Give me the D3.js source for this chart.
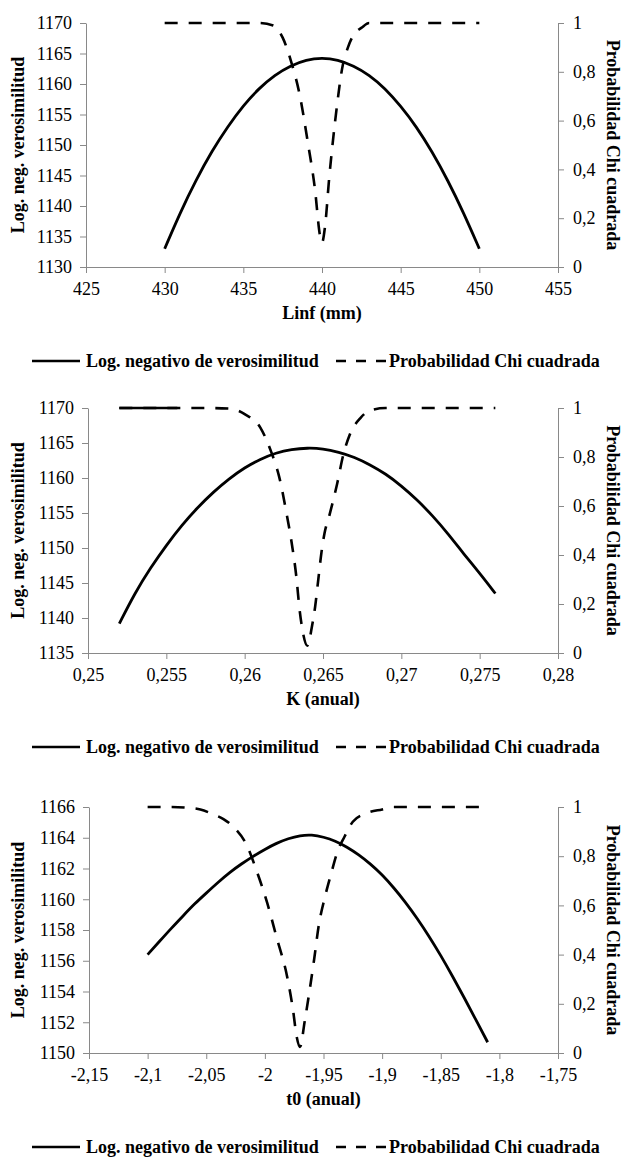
<!DOCTYPE html>
<html>
<head>
<meta charset="utf-8">
<script src="https://cdnjs.cloudflare.com/ajax/libs/d3/7.8.5/d3.min.js"></script>
<style>
  body { margin: 0; background: #fff; }
  svg { display: block; font-family: "Liberation Serif", "Times New Roman", serif; }
  .tick text { font-family: "Liberation Serif", "Times New Roman", serif; font-size: 18px; fill: #000; }
  .domain, .tick line { stroke: #898989; stroke-width: 1; }
  .axis-title, .legend-text { font-size: 18px; font-weight: bold; fill: #000; }
  .nll-line { fill: none; stroke: #000; stroke-width: 2.8; }
  .prob-line { fill: none; stroke: #000; stroke-width: 2.6; stroke-dasharray: 13 11; }
</style>
</head>
<body>
<div id="wrapper"></div>
<script>

// Linf panel
const linfTicks = [425, 430, 435, 440, 445, 450, 455]
const linfNllTicks = [1130, 1135, 1140, 1145, 1150, 1155, 1160, 1165, 1170]
const linfNllX = [430, 431, 432, 433, 434, 435, 436, 437, 438, 439, 440, 441, 442, 443, 444, 445, 446, 447, 448, 449, 450]
const linfNll = [1133.0, 1139.0, 1144.3, 1149.0, 1153.0, 1156.5, 1159.3, 1161.5, 1163.0, 1164.0, 1164.3, 1164.0, 1163.0, 1161.5, 1159.3, 1156.4, 1153.0, 1148.9, 1144.2, 1138.9, 1133.0]
const linfProbX = [430, 432, 434, 436, 436.9, 437.5, 438.0, 438.6, 439.1, 439.55, 439.87, 440.0, 440.2, 440.45, 440.7, 440.95, 441.27, 441.65, 442.1, 442.5, 443.0, 444, 446, 448, 450]
const linfProb = [1, 1, 1, 1, 0.99, 0.94, 0.85, 0.70, 0.51, 0.32, 0.13, 0.10, 0.17, 0.36, 0.52, 0.66, 0.81, 0.90, 0.96, 0.98, 1, 1, 1, 1, 1]

// K panel
const kTicks = [0.25, 0.255, 0.26, 0.265, 0.27, 0.275, 0.28]
const kNllTicks = [1135, 1140, 1145, 1150, 1155, 1160, 1165, 1170]
const kNllX = [0.252, 0.253, 0.254, 0.255, 0.256, 0.257, 0.258, 0.259, 0.260, 0.261, 0.262, 0.263, 0.264, 0.265, 0.266, 0.267, 0.268, 0.269, 0.270, 0.271, 0.272, 0.273, 0.274, 0.275, 0.276]
const kNll = [1139.2, 1143.6, 1147.2, 1150.4, 1153.3, 1155.8, 1158.0, 1159.9, 1161.5, 1162.7, 1163.6, 1164.1, 1164.3, 1164.2, 1163.7, 1163.0, 1161.9, 1160.6, 1158.9, 1156.9, 1154.6, 1152.0, 1149.1, 1146.4, 1143.5]
const kProbX = [0.252, 0.254, 0.256, 0.2575, 0.259, 0.260, 0.261, 0.2617, 0.2622, 0.2627, 0.2630, 0.2633, 0.2635, 0.2637, 0.2640, 0.2643, 0.2645, 0.2647, 0.2649, 0.2651, 0.2654, 0.2659, 0.2663, 0.2667, 0.2674, 0.268, 0.269, 0.272, 0.276]
const kProb = [1, 1, 1, 1, 0.998, 0.975, 0.92, 0.82, 0.72, 0.56, 0.45, 0.31, 0.18, 0.09, 0.03, 0.11, 0.19, 0.30, 0.41, 0.49, 0.56, 0.69, 0.81, 0.89, 0.96, 0.99, 1, 1, 1]
// densely sampled start of the K run: the dashes merge into a solid stroke
const kProbDenseUntil = 0.2557

// t0 panel
const t0Ticks = [-2.15, -2.1, -2.05, -2, -1.95, -1.9, -1.85, -1.8, -1.75]
const t0NllTicks = [1150, 1152, 1154, 1156, 1158, 1160, 1162, 1164, 1166]
const t0NllX = [-2.10, -2.09, -2.08, -2.07, -2.06, -2.05, -2.04, -2.03, -2.02, -2.01, -2.00, -1.99, -1.98, -1.97, -1.96, -1.95, -1.94, -1.93, -1.92, -1.91, -1.90, -1.89, -1.88, -1.87, -1.86, -1.85, -1.84, -1.83, -1.82, -1.81]
const t0Nll = [1156.4, 1157.25, 1158.1, 1158.9, 1159.7, 1160.4, 1161.1, 1161.75, 1162.3, 1162.8, 1163.25, 1163.65, 1163.95, 1164.15, 1164.2, 1164.05, 1163.8, 1163.4, 1162.9, 1162.3, 1161.6, 1160.75, 1159.8, 1158.75, 1157.6, 1156.35, 1155.0, 1153.6, 1152.15, 1150.7]
const t0ProbX = [-2.10, -2.08, -2.066, -2.055, -2.044, -2.035, -2.027, -2.015, -2.007, -1.998, -1.990, -1.981, -1.976, -1.973, -1.970, -1.966, -1.962, -1.958, -1.954, -1.949, -1.944, -1.938, -1.932, -1.925, -1.913, -1.90, -1.89, -1.85, -1.81]
const t0Prob = [1, 1, 0.997, 0.99, 0.97, 0.95, 0.92, 0.84, 0.74, 0.61, 0.47, 0.31, 0.175, 0.07, 0.025, 0.13, 0.25, 0.38, 0.52, 0.63, 0.72, 0.82, 0.88, 0.94, 0.975, 0.99, 1, 1, 1]

const probTicks = [0, 0.2, 0.4, 0.6, 0.8, 1]
const xTitles = ["Linf (mm)", "K (anual)", "t0 (anual)"]
const leftTitle = "Log. neg. verosimilitud"
const rightTitle = "Probabilidad Chi cuadrada"
const seriesNames = ["Log. negativo de verosimilitud", "Probabilidad Chi cuadrada"]

const serif = '"Liberation Serif", "Times New Roman", serif'

async function drawChart() {

  // 1. Access data

  const zip = (xs, ys) => xs.map((x, i) => [x, ys[i]])
  const panels = [
    { xTicks: linfTicks, nllTicks: linfNllTicks, nll: zip(linfNllX, linfNll), prob: zip(linfProbX, linfProb), title: xTitles[0] },
    { xTicks: kTicks, nllTicks: kNllTicks, nll: zip(kNllX, kNll), prob: zip(kProbX, kProb), title: xTitles[1], denseUntil: kProbDenseUntil },
    { xTicks: t0Ticks, nllTicks: t0NllTicks, nll: zip(t0NllX, t0Nll), prob: zip(t0ProbX, t0Prob), title: xTitles[2] },
  ]

  const commaFormat = d => String(+d.toFixed(4)).replace(".", ",")

  // 2. Create chart dimensions

  const dimensions = {
    width: 622,
    height: 1157,
    right: 558,
    panels: [
      { top: 23, height: 244, left: 86 },
      { top: 408, height: 245, left: 88 },
      { top: 807, height: 246, left: 89 },
    ],
    leftTitleX: 18,
    rightTitleX: 613,
    xTitleOffset: 52,
    legendOffset: 94,
    legend: [
      { x1: 32, x2: 80, textX: 86 },
      { x1: 336, x2: 386, textX: 389 },
    ],
  }

  // 3. Draw canvas

  const wrapper = d3.select("#wrapper")
    .append("svg")
      .attr("width", dimensions.width)
      .attr("height", dimensions.height)
      .attr("font-family", serif)

  panels.forEach((panel, i) => {
    const box = dimensions.panels[i]
    const bottom = box.top + box.height
    const midX = (box.left + dimensions.right) / 2
    const midY = box.top + box.height / 2

    // 4. Create scales

    const xScale = d3.scaleLinear()
      .domain(d3.extent(panel.xTicks))
      .range([box.left, dimensions.right])

    const yScale = d3.scaleLinear()
      .domain(d3.extent(panel.nllTicks))
      .range([bottom, box.top])

    const probScale = d3.scaleLinear()
      .domain(d3.extent(probTicks))
      .range([bottom, box.top])

    const bounds = wrapper.append("g")

    // 5. Draw peripherals (axes under the lines)

    const xAxis = bounds.append("g")
        .attr("transform", `translate(0, ${bottom})`)
        .call(d3.axisBottom(xScale)
          .tickValues(panel.xTicks)
          .tickFormat(commaFormat)
          .tickSize(6)
          .tickSizeOuter(0)
          .tickPadding(9))

    const yAxis = bounds.append("g")
        .attr("transform", `translate(${box.left}, 0)`)
        .call(d3.axisLeft(yScale)
          .tickValues(panel.nllTicks)
          .tickFormat(commaFormat)
          .tickSize(6)
          .tickSizeOuter(0)
          .tickPadding(8))

    const probAxis = bounds.append("g")
        .attr("transform", `translate(${dimensions.right}, 0)`)
        .call(d3.axisRight(probScale)
          .tickValues(probTicks)
          .tickFormat(commaFormat)
          .tickSize(6)
          .tickSizeOuter(0)
          .tickPadding(9))

    ;[xAxis, yAxis, probAxis].forEach(axis => {
      axis.attr("font-family", serif).attr("font-size", 18)
      axis.selectAll("text").attr("font-family", serif)
    })

    bounds.append("text")
        .attr("class", "axis-title")
        .attr("x", midX)
        .attr("y", bottom + dimensions.xTitleOffset)
        .attr("text-anchor", "middle")
        .text(panel.title)

    bounds.append("text")
        .attr("class", "axis-title")
        .attr("transform", `translate(${dimensions.leftTitleX}, ${midY}) rotate(-90)`)
        .attr("text-anchor", "middle")
        .attr("dy", "0.35em")
        .text(leftTitle)

    bounds.append("text")
        .attr("class", "axis-title")
        .attr("transform", `translate(${dimensions.rightTitleX}, ${midY}) rotate(90)`)
        .attr("text-anchor", "middle")
        .attr("dy", "0.35em")
        .text(rightTitle)

    // 6. Draw data

    const nllLine = d3.line()
      .x(d => xScale(d[0]))
      .y(d => yScale(d[1]))
      .curve(d3.curveBasis)

    const probLine = d3.line()
      .x(d => xScale(d[0]))
      .y(d => probScale(d[1]))
      .curve(d3.curveMonotoneX)

    bounds.append("path")
        .attr("class", "nll-line")
        .attr("d", nllLine(panel.nll))

    bounds.append("path")
        .attr("class", "prob-line")
        .attr("d", probLine(panel.prob))

    if (panel.denseUntil) {
      const dense = panel.prob.filter(d => d[0] <= panel.denseUntil)
      dense.push([panel.denseUntil, dense[dense.length - 1][1]])
      bounds.append("path")
          .attr("class", "prob-line")
          .style("stroke-dasharray", "none")
          .attr("d", probLine(dense))
    }

    // legend
    const legendY = bottom + dimensions.legendOffset
    const legend = bounds.append("g")
        .selectAll("g")
        .data(seriesNames)
        .join("g")

    legend.append("line")
        .attr("x1", (d, j) => dimensions.legend[j].x1)
        .attr("x2", (d, j) => dimensions.legend[j].x2)
        .attr("y1", legendY)
        .attr("y2", legendY)
        .attr("stroke", "#000")
        .attr("stroke-width", 2.7)
        .attr("stroke-dasharray", (d, j) => j == 1 ? "10 10" : null)

    legend.append("text")
        .attr("class", "legend-text")
        .attr("x", (d, j) => dimensions.legend[j].textX)
        .attr("y", legendY)
        .attr("dy", "0.35em")
        .text(d => d)
  })
}
drawChart()
</script>
</body>
</html>
